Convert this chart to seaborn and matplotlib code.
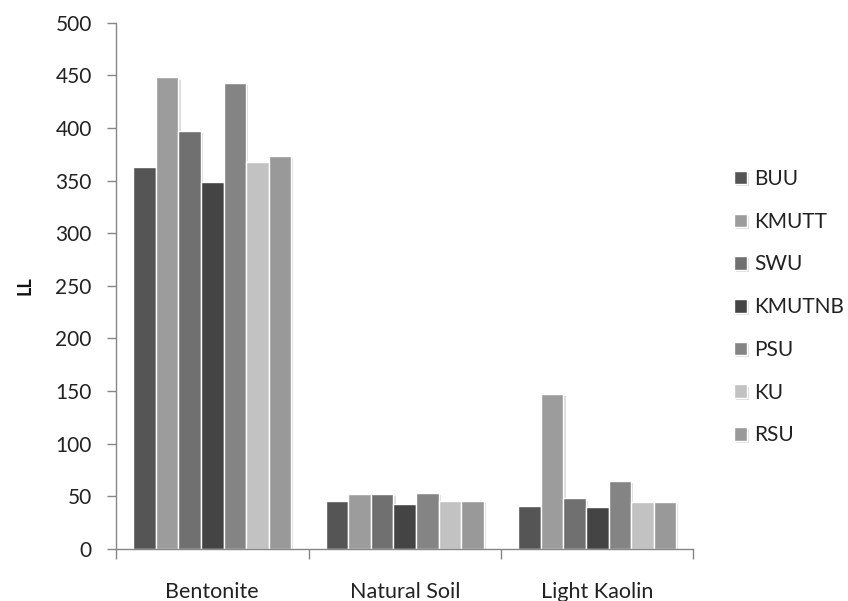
import matplotlib
matplotlib.use("Agg")
import matplotlib.pyplot as plt
import matplotlib.patheffects as pe
from matplotlib.ticker import FixedLocator
import seaborn as sns
import pandas as pd

materials = ["Bentonite", "Natural Soil", "Light Kaolin"]
labs = ["BUU", "KMUTT", "SWU", "KMUTNB", "PSU", "KU", "RSU"]
bentonite_ll = [363, 448, 397, 349, 443, 368, 373]
natural_soil_ll = [46, 52, 52, 43, 53, 46, 46]
light_kaolin_ll = [41, 147, 48, 40, 65, 45, 45]
lab_colors = ["#555555", "#9c9c9c", "#707070", "#444444", "#848484", "#c2c2c2", "#999999"]

rows = []
for material, values in zip(materials, [bentonite_ll, natural_soil_ll, light_kaolin_ll]):
    for lab, v in zip(labs, values):
        rows.append({"Material": material, "Lab": lab, "LL": v})
df = pd.DataFrame(rows)

sns.set_theme(style="white")
plt.rcParams["font.family"] = ["Lato", "DejaVu Sans"]

fig = plt.figure(figsize=(8.48, 6.01), dpi=100)
ax = fig.add_axes([0.1368, 0.0865, 0.681, 0.8757])

sns.barplot(data=df, x="Material", y="LL", hue="Lab", order=materials,
            hue_order=labs, palette=lab_colors, width=0.82,
            edgecolor="white", linewidth=1.0, ax=ax, legend=True)

for bar in ax.patches:
    bar.set_path_effects([pe.SimplePatchShadow(offset=(1.5, -1.5), shadow_rgbFace="#bbbbbb", alpha=0.5),
                          pe.Normal()])

ax.set_ylim(0, 500)
ax.set_xlim(-0.5, 2.5)
ax.set_yticks(range(0, 501, 50))
ax.set_xlabel("")
ax.set_ylabel("LL", fontsize=13, fontweight="bold", labelpad=16, color="#111111")

for s in ["top", "right"]:
    ax.spines[s].set_visible(False)
for s in ["left", "bottom"]:
    ax.spines[s].set_color("#868686")
    ax.spines[s].set_linewidth(1.0)

ax.tick_params(axis="y", which="major", direction="out", length=6.5, width=1,
               color="#868686", labelsize=15, labelcolor="#222222", pad=11, left=True)
ax.tick_params(axis="x", which="major", length=0, labelsize=15.5, labelcolor="#222222", pad=24)
ax.xaxis.set_minor_locator(FixedLocator([-0.5, 0.5, 1.5, 2.5]))
ax.tick_params(axis="x", which="minor", direction="out", length=7, width=1,
               color="#868686", bottom=True)

handles, labels = ax.get_legend_handles_labels()
ax.legend(handles, labels, loc="center left", bbox_to_anchor=(0.843, 0.489),
          bbox_transform=fig.transFigure, frameon=False, fontsize=15,
          handlelength=0.62, handleheight=0.62, handletextpad=0.35,
          labelspacing=1.09, labelcolor="#222222")

fig.savefig("out.png", dpi=100)
